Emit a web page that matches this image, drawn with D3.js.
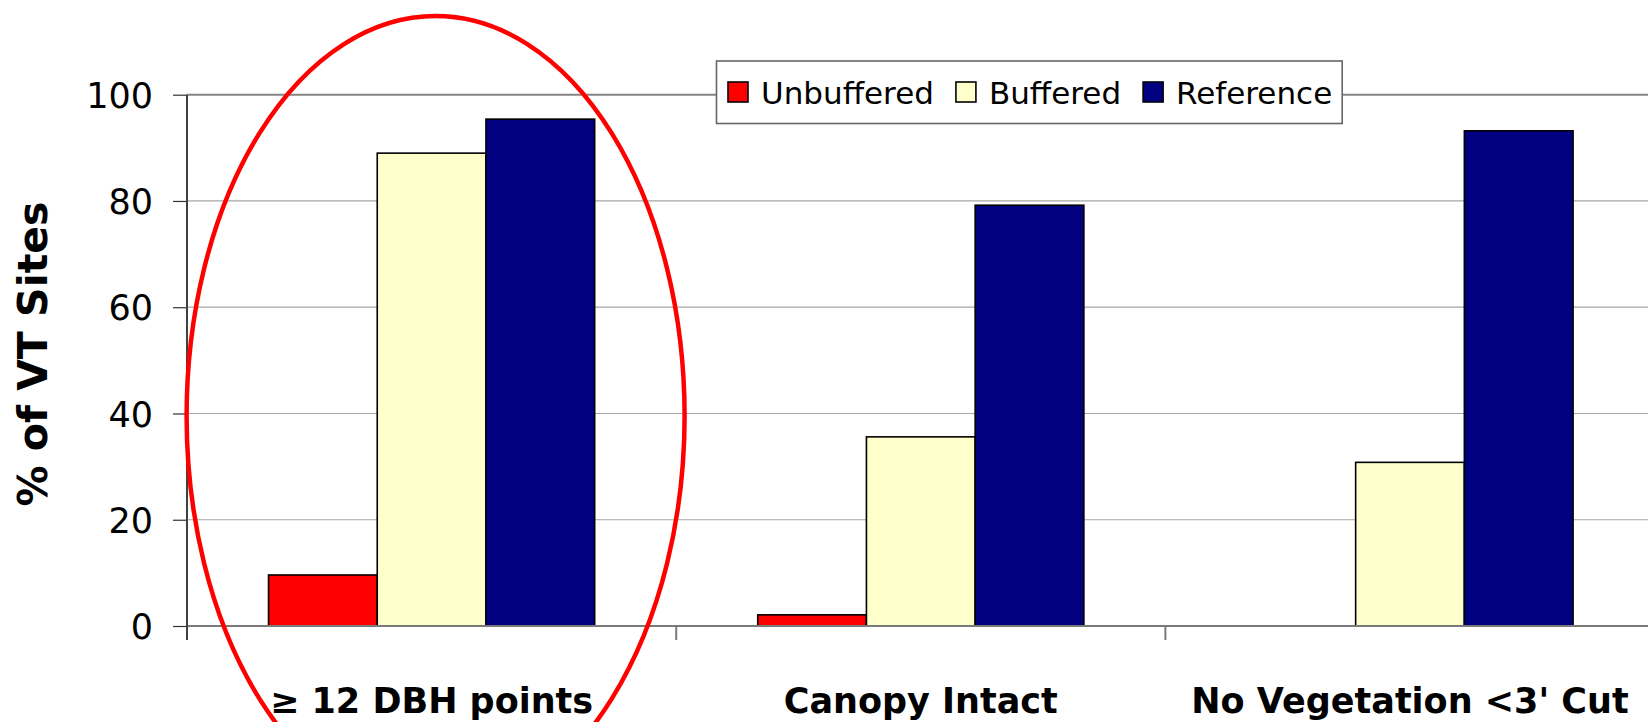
<!DOCTYPE html>
<html>
<head>
<meta charset="utf-8">
<script src="https://cdn.jsdelivr.net/npm/d3@7"></script>
<style>
  html, body { margin: 0; padding: 0; background: #fff; }
  svg { display: block; font-family: "Comic Sans MS", "DejaVu Sans", sans-serif; }
</style>
</head>
<body>
<div class="chart"></div>
<script>
const w = 1648;
const h = 722;

// data
const categories = ["\u2265 12 DBH points", "Canopy Intact", "No Vegetation <3' Cut"];
const series = ["Unbuffered", "Buffered", "Reference"];
const colors = ["#ff0000", "#ffffcc", "#000080"];
const unbuffered = [9.6, 2.1, 0];
const buffered = [89, 35.6, 30.8];
const reference = [95.4, 79.2, 93.2];
const yTicks = [0, 20, 40, 60, 80, 100];

const values = [unbuffered, buffered, reference];

const plotLeft = 187;
const plotTop = 94.7;
const plotBottom = 626;
const catWidth = 489.2;

const svg = d3
  .select(".chart")
  .append("svg")
  .attr("width", w)
  .attr("height", h)
  .style("overflow", "hidden");

//scales
const yScale = d3.scaleLinear().domain([0, 100]).range([plotBottom, plotTop]);
const x0 = d3
  .scaleBand()
  .domain(categories)
  .range([plotLeft, plotLeft + catWidth * categories.length])
  .padding(0);
const x1 = d3
  .scaleBand()
  .domain(series)
  .range([0, x0.bandwidth()])
  .paddingInner(0)
  .paddingOuter(0.75);

//gridlines
svg
  .append("g")
  .selectAll("line")
  .data(yTicks.filter((d) => d > 0))
  .enter()
  .append("line")
  .attr("x1", plotLeft)
  .attr("x2", w)
  .attr("y1", (d) => yScale(d))
  .attr("y2", (d) => yScale(d))
  .attr("stroke", (d) => (d === 100 ? "#858585" : "#a6a6a6"))
  .attr("stroke-width", (d) => (d === 100 ? 2 : 1.2));

//bars
const rows = [];
categories.forEach((c, i) => {
  series.forEach((s, j) => {
    rows.push({ cat: c, series: s, value: values[j][i], color: colors[j] });
  });
});

svg
  .append("g")
  .selectAll("rect")
  .data(rows.filter((d) => d.value > 0))
  .enter()
  .append("rect")
  .attr("x", (d) => x0(d.cat) + x1(d.series))
  .attr("y", (d) => yScale(d.value))
  .attr("width", x1.bandwidth())
  .attr("height", (d) => yScale(0) - yScale(d.value))
  .attr("fill", (d) => d.color)
  .attr("stroke", "#000")
  .attr("stroke-width", 1.6);

//x axis
const xAxis = svg.append("g").attr("id", "x-axis");
xAxis
  .append("line")
  .attr("x1", plotLeft)
  .attr("x2", w)
  .attr("y1", plotBottom)
  .attr("y2", plotBottom)
  .attr("stroke", "#7a7a7a")
  .attr("stroke-width", 2);
xAxis
  .selectAll(".xtick")
  .data(categories)
  .enter()
  .append("line")
  .attr("class", "xtick")
  .attr("x1", (d) => x0(d))
  .attr("x2", (d) => x0(d))
  .attr("y1", plotBottom)
  .attr("y2", plotBottom + 14)
  .attr("stroke", "#7a7a7a")
  .attr("stroke-width", 2);
xAxis
  .selectAll("text")
  .data(categories)
  .enter()
  .append("text")
  .attr("x", (d) => x0(d) + x0.bandwidth() / 2)
  .attr("y", 713)
  .attr("text-anchor", "middle")
  .attr("font-size", "35px")
  .attr("font-weight", "bold")
  .attr("fill", "#000")
  .text((d) => d);

//y axis
const yAxis = d3
  .axisLeft(yScale)
  .tickValues(yTicks)
  .tickSize(14)
  .tickPadding(20)
  .tickFormat(d3.format("d"));

const yG = svg
  .append("g")
  .attr("id", "y-axis")
  .attr("transform", `translate(${plotLeft},0)`)
  .call(yAxis);
yG.select(".domain").remove();
yG.selectAll(".tick line").attr("stroke", "#333").attr("stroke-width", 1.2);
yG.selectAll(".tick text")
  .attr("font-size", "35px")
  .attr("font-family", "'Comic Sans MS', 'DejaVu Sans', sans-serif")
  .attr("fill", "#000")
  .attr("dy", "0.36em");
yG.append("line")
  .attr("x1", 0)
  .attr("x2", 0)
  .attr("y1", plotTop)
  .attr("y2", plotBottom + 14)
  .attr("stroke", "#404040")
  .attr("stroke-width", 2);

svg
  .append("text")
  .attr("transform", `translate(33, 354) rotate(-90)`)
  .attr("text-anchor", "middle")
  .attr("dominant-baseline", "central")
  .attr("font-size", "41px")
  .attr("font-weight", "bold")
  .attr("fill", "#000")
  .text("% of VT Sites");

//legend
const legend = svg.append("g").attr("id", "legend");
const legX = 716.5;
const legY = 61;
const legH = 62.5;
const box = legend
  .append("rect")
  .attr("x", legX)
  .attr("y", legY)
  .attr("height", legH)
  .attr("fill", "#fff")
  .attr("stroke", "#666")
  .attr("stroke-width", 1.6);

let cx = legX + 11.5;
series.forEach((s, i) => {
  legend
    .append("rect")
    .attr("x", cx)
    .attr("y", legY + 21)
    .attr("width", 20)
    .attr("height", 20)
    .attr("fill", colors[i])
    .attr("stroke", "#000")
    .attr("stroke-width", 1.6);
  const t = legend
    .append("text")
    .attr("x", cx + 33)
    .attr("y", legY + 43)
    .attr("font-size", "31px")
    .attr("fill", "#000")
    .text(s);
  cx += 33 + t.node().getComputedTextLength() + 22;
});
box.attr("width", cx - 22 + 10 - legX);

//ellipse highlight
svg
  .append("ellipse")
  .attr("cx", x0(categories[0]) + x0.bandwidth() / 2 + 4)
  .attr("cy", 416)
  .attr("rx", 249)
  .attr("ry", 400)
  .attr("fill", "none")
  .attr("stroke", "#ff0000")
  .attr("stroke-width", 4.5);
</script>
</body>
</html>
